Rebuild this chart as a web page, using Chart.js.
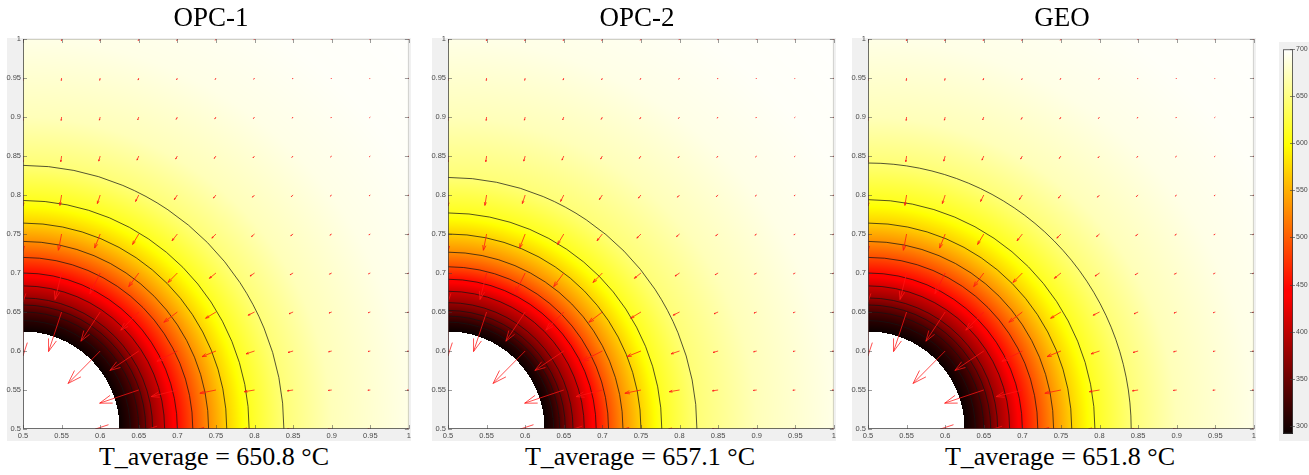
<!DOCTYPE html>
<html>
<head>
<meta charset="utf-8">
<script src="https://cdn.jsdelivr.net/npm/chart.js@4.4.1/dist/chart.umd.min.js"></script>
<style>
  html, body { margin: 0; padding: 0; background: #fff; }
  body { width: 1309px; height: 475px; position: relative; overflow: hidden; }
  canvas { position: absolute; }
  .label { position: absolute; font-family: "Liberation Serif", "DejaVu Serif", serif; color: #000;
           white-space: nowrap; transform: translateX(-50%); line-height: 1; }
  .title { font-size: 27px; top: 4px; }
  .caption { font-size: 26px; top: 444px; }
</style>
</head>
<body>
<canvas id="p0" width="413" height="411" style="left:0px;top:30px"></canvas>
<canvas id="p1" width="413" height="411" style="left:425px;top:30px"></canvas>
<canvas id="p2" width="413" height="411" style="left:845px;top:30px"></canvas>
<canvas id="cb" width="30" height="399" style="left:1279px;top:42px"></canvas>
<div class="label title" style="left:211px">OPC-1</div>
<div class="label title" style="left:637px">OPC-2</div>
<div class="label title" style="left:1062px">GEO</div>
<div class="label caption" id="c0" style="left:214px"></div>
<div class="label caption" id="c1" style="left:640px"></div>
<div class="label caption" id="c2" style="left:1060px"></div>
<script>
// ---- panels ----
const panelNames = ['OPC-1', 'OPC-2', 'GEO'];
const averageTemps = [650.8, 657.1, 651.8];

// ---- axes (quarter domain, metres) ----
const axisTicks = [0.5, 0.55, 0.6, 0.65, 0.7, 0.75, 0.8, 0.85, 0.9, 0.95, 1];
const quiverGrid = [0.5, 0.55, 0.6, 0.65, 0.7, 0.75, 0.8, 0.85, 0.9, 0.95, 1];
const holeCentre = [0.5, 0.5];
const holeRadius = 0.125;

// ---- temperature field (°C) ----
const colourMin = 291.5;
const colourMax = 700;
const colorbarTicks = [300, 350, 400, 450, 500, 550, 600, 650, 700];
const surfaceTemp = 291.5;
const contourLevels = [310, 330, 352, 378, 410, 450, 490, 530, 570, 610, 645];
const contourRadiiOPC1 = [0.139, 0.150, 0.159, 0.168, 0.1835, 0.200, 0.220, 0.2405, 0.264, 0.293, 0.338];
const contourRadiiOPC2 = [0.137, 0.1447, 0.152, 0.162, 0.1766, 0.192, 0.208, 0.2267, 0.250, 0.277, 0.3225];
const contourRadiiGEO  = [0.139, 0.150, 0.159, 0.168, 0.1835, 0.200, 0.220, 0.2405, 0.264, 0.294, 0.341];
const farFieldRadii = [0.40, 0.50, 0.60, 0.75];
const farFieldTemps = [672, 690, 697, 700];

// ---- heat flux magnitude along the radius (relative units) ----
const fluxRadii     = [0.10, 0.14, 0.16, 0.18, 0.21, 0.25, 0.27, 0.30, 0.32, 0.35, 0.40, 0.45, 0.50, 0.60, 0.71];
const fluxMagnitude = [14,   46,   41,   35,   26,   17,   15,   11,   8.5,  6,    3.5,  2.5,  1.8,  1.0,  0.6];
const fluxScale = 0.5 / 388;

const contourRadii = [contourRadiiOPC1, contourRadiiOPC2, contourRadiiGEO];

function lerpTable(xs, ys, x) {
  if (x <= xs[0]) return ys[0];
  for (let i = 1; i < xs.length; i++) {
    if (x <= xs[i]) {
      const t = (x - xs[i - 1]) / (xs[i] - xs[i - 1]);
      return ys[i - 1] + t * (ys[i] - ys[i - 1]);
    }
  }
  return ys[ys.length - 1];
}

function hot(temp) {
  const f = Math.max(0, Math.min(1, (temp - colourMin) / (colourMax - colourMin)));
  const c = v => Math.max(0, Math.min(1, v));
  return [
    Math.round(255 * c(1 / 24 + f / 0.375)),
    Math.round(255 * c((f - 0.375) / 0.375)),
    Math.round(255 * c((f - 0.75) / 0.25))
  ];
}

// arrows at the quiver grid, pointing down the temperature gradient
function fluxArrows() {
  const pts = [];
  for (const gx of quiverGrid) {
    for (const gy of quiverGrid) {
      const dx = gx - holeCentre[0], dy = gy - holeCentre[1];
      const r = Math.hypot(dx, dy);
      if (r < 0.1) continue;
      if (r < holeRadius && dx > 0 && dy > 0) continue;
      const m = lerpTable(fluxRadii, fluxMagnitude, r) * fluxScale;
      pts.push({ x: gx, y: gy, u: -dx / r * m, v: -dy / r * m });
    }
  }
  return pts;
}

const thermalField = {
  id: 'thermalField',
  beforeDraw(chart) {
    const ctx = chart.ctx, a = chart.chartArea;
    ctx.save();
    ctx.fillStyle = '#f0f0f0';
    ctx.fillRect(a.left - 16, a.top - 1, a.right - a.left + 18, chart.height - a.top + 1);
    ctx.restore();
  },
  beforeDatasetsDraw(chart, args, opts) {
    const ctx = chart.ctx, a = chart.chartArea;
    const xs = chart.scales.x, ys = chart.scales.y;
    const knR = [holeRadius, ...opts.radii, ...farFieldRadii];
    const knT = [surfaceTemp, ...contourLevels, ...farFieldTemps];
    const w = Math.round(a.right - a.left), h = Math.round(a.bottom - a.top);
    const off = document.createElement('canvas');
    off.width = w; off.height = h;
    const octx = off.getContext('2d');
    const img = octx.createImageData(w, h);
    for (let j = 0; j < h; j++) {
      const yv = ys.getValueForPixel(a.top + j + 0.5);
      for (let i = 0; i < w; i++) {
        const xv = xs.getValueForPixel(a.left + i + 0.5);
        const r = Math.hypot(xv - holeCentre[0], yv - holeCentre[1]);
        const k = (j * w + i) * 4;
        let col = [255, 255, 255];
        if (r >= holeRadius) col = hot(lerpTable(knR, knT, r));
        img.data[k] = col[0]; img.data[k + 1] = col[1]; img.data[k + 2] = col[2]; img.data[k + 3] = 255;
      }
    }
    octx.putImageData(img, 0, 0);
    ctx.drawImage(off, a.left, a.top);

    // isotherms
    ctx.save();
    ctx.beginPath();
    ctx.rect(a.left, a.top, a.right - a.left, a.bottom - a.top);
    ctx.clip();
    const cx = xs.getPixelForValue(holeCentre[0]), cy = ys.getPixelForValue(holeCentre[1]);
    ctx.strokeStyle = 'rgba(20,20,20,0.72)';
    ctx.lineWidth = 1;
    for (const r of opts.radii) {
      const rx = xs.getPixelForValue(holeCentre[0] + r) - cx;
      const ry = cy - ys.getPixelForValue(holeCentre[1] + r);
      ctx.beginPath();
      ctx.ellipse(cx, cy, rx, ry, 0, -Math.PI / 2, 0);
      ctx.stroke();
    }
    ctx.restore();
  },
  afterDatasetsDraw(chart) {
    const ctx = chart.ctx, a = chart.chartArea;
    const xs = chart.scales.x, ys = chart.scales.y;
    ctx.save();
    ctx.beginPath();
    ctx.rect(a.left, a.top, a.right - a.left, a.bottom - a.top);
    ctx.clip();
    ctx.strokeStyle = 'rgba(255,20,20,0.75)';
    ctx.lineWidth = 1;
    for (const p of chart.data.datasets[0].data) {
      const x0 = xs.getPixelForValue(p.x), y0 = ys.getPixelForValue(p.y);
      const x1 = xs.getPixelForValue(p.x + p.u), y1 = ys.getPixelForValue(p.y + p.v);
      const du = x1 - x0, dv = y1 - y0;
      const len = Math.hypot(du, dv);
      if (len < 0.5) continue;
      ctx.beginPath();
      ctx.moveTo(x0, y0); ctx.lineTo(x1, y1);
      const al = 0.3, be = 0.33;
      ctx.moveTo(x1 - al * (du + be * dv), y1 - al * (dv - be * du));
      ctx.lineTo(x1, y1);
      ctx.lineTo(x1 - al * (du - be * dv), y1 - al * (dv + be * du));
      ctx.stroke();
    }
    ctx.restore();

    // axes box and inward ticks
    ctx.save();
    ctx.lineWidth = 1;
    ctx.strokeStyle = 'rgba(60,60,60,0.75)';
    ctx.beginPath();
    ctx.moveTo(a.left + 0.5, a.top); ctx.lineTo(a.left + 0.5, a.bottom - 0.5); ctx.lineTo(a.right, a.bottom - 0.5);
    ctx.stroke();
    ctx.strokeStyle = 'rgba(120,120,120,0.35)';
    ctx.beginPath();
    ctx.moveTo(a.left, a.top + 0.5); ctx.lineTo(a.right - 0.5, a.top + 0.5); ctx.lineTo(a.right - 0.5, a.bottom);
    ctx.stroke();
    ctx.strokeStyle = 'rgba(60,60,60,0.5)';
    ctx.beginPath();
    for (const t of axisTicks) {
      const px = Math.round(xs.getPixelForValue(t)) + 0.5;
      ctx.moveTo(px, a.bottom); ctx.lineTo(px, a.bottom - 4);
      ctx.moveTo(px, a.top); ctx.lineTo(px, a.top + 4);
      const py = Math.round(ys.getPixelForValue(t)) + 0.5;
      ctx.moveTo(a.left, py); ctx.lineTo(a.left + 4, py);
      ctx.moveTo(a.right, py); ctx.lineTo(a.right - 4, py);
    }
    ctx.stroke();
    ctx.restore();
  }
};

const tickFont = { family: '"Liberation Sans", Arial, sans-serif', size: 7.5 };
const fmt = v => String(Number(v.toFixed(2)));

function axis(extra) {
  return Object.assign({
    type: 'linear', min: 0.5, max: 1,
    afterBuildTicks: s => { s.ticks = axisTicks.map(v => ({ value: v })); },
    ticks: { autoSkip: false, maxRotation: 0, font: tickFont, color: '#4a4a4a', padding: 2, callback: fmt },
    grid: { display: false, drawTicks: false },
    border: { display: false }
  }, extra);
}

panelNames.forEach((name, i) => {
  document.getElementById('c' + i).textContent = 'T_average = ' + averageTemps[i].toFixed(1) + ' °C';
  new Chart(document.getElementById('p' + i), {
    type: 'scatter',
    data: { datasets: [{ label: name, data: fluxArrows(), pointRadius: 0 }] },
    options: {
      responsive: false, animation: false, events: [],
      layout: { padding: { top: 9, right: 2, left: 0, bottom: 0 } },
      plugins: { legend: { display: false }, tooltip: { enabled: false }, thermalField: { radii: contourRadii[i] } },
      scales: {
        x: axis({ afterFit: s => { s.height = 12; } }),
        y: axis({ afterFit: s => { s.width = 23; } })
      }
    },
    plugins: [thermalField]
  });
});

// ---- colour bar ----
const colorbarPlugin = {
  id: 'colorbarFill',
  beforeDraw(chart) {
    const ctx = chart.ctx;
    ctx.save();
    ctx.fillStyle = '#f0f0f0';
    ctx.fillRect(0, 0, chart.width, chart.height);
    ctx.restore();
  },
  afterDatasetsDraw(chart) {
    const ctx = chart.ctx, a = chart.chartArea, ys = chart.scales.y;
    for (let py = Math.floor(a.top); py < a.bottom; py++) {
      const c = hot(ys.getValueForPixel(py + 0.5));
      ctx.fillStyle = 'rgb(' + c.join(',') + ')';
      ctx.fillRect(a.left, py, a.right - a.left, 1);
    }
    ctx.save();
    ctx.strokeStyle = 'rgba(60,60,60,0.8)';
    ctx.lineWidth = 1;
    ctx.strokeRect(a.left + 0.5, a.top + 0.5, a.right - a.left - 1, a.bottom - a.top - 1);
    ctx.beginPath();
    for (const t of colorbarTicks) {
      const py = Math.round(ys.getPixelForValue(t)) + 0.5;
      ctx.moveTo(a.right - 3, py); ctx.lineTo(a.right + 2, py);
    }
    ctx.strokeStyle = 'rgba(60,60,60,0.6)';
    ctx.stroke();
    ctx.restore();
  }
};

new Chart(document.getElementById('cb'), {
  type: 'scatter',
  data: { datasets: [{ data: [] }] },
  options: {
    responsive: false, animation: false, events: [],
    layout: { padding: { top: 6, bottom: 7, left: 4, right: 0 } },
    plugins: { legend: { display: false }, tooltip: { enabled: false } },
    scales: {
      x: { display: false, min: 0, max: 1 },
      y: {
        position: 'right', min: colourMin, max: colourMax,
        afterBuildTicks: s => { s.ticks = colorbarTicks.map(v => ({ value: v })); },
        ticks: { autoSkip: false, font: { family: '"Liberation Sans", Arial, sans-serif', size: 7 }, color: '#4a4a4a', padding: 3 },
        grid: { display: false, drawTicks: false },
        border: { display: false },
        afterFit: s => { s.width = 16; }
      }
    }
  },
  plugins: [colorbarPlugin]
});
</script>
</body>
</html>
